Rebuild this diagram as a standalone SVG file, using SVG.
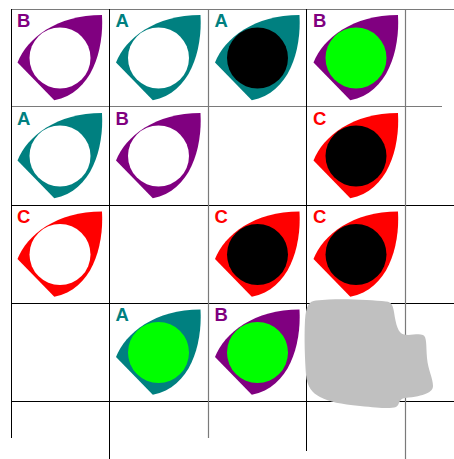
<svg xmlns="http://www.w3.org/2000/svg" xmlns:xlink="http://www.w3.org/1999/xlink" width="454" height="459" viewBox="0 0 454 459">
<style>
.g{stroke:#000;stroke-width:1;fill:none}
.gg{stroke:#7a7a7a;stroke-width:1.2;fill:none}
.lbl{font-family:"Liberation Sans",Arial,sans-serif;font-weight:bold;font-size:18.5px}
.p{fill:#800080}
.t{fill:#008080}
.r{fill:#ff0000}
.w{fill:#fff}
.k{fill:#000}
.gr{fill:#00ff00}
</style>
<defs>
<path id="leaf" d="M17.5,62.5 C27,38 57,15 102,15 C104,50 92,93 54.3,100.3 Z"/>
</defs>
<rect width="454" height="459" fill="#fff"/>
<g id="grid">
<line class="gg" x1="11" y1="9.5" x2="454" y2="9.5"/>
<line class="gg" x1="11" y1="106.5" x2="442" y2="106.5"/>
<line class="g" x1="11" y1="205.5" x2="454" y2="205.5"/>
<line class="g" x1="11" y1="303.5" x2="454" y2="303.5"/>
<line class="g" x1="11" y1="401.5" x2="454" y2="401.5"/>
<line class="g" x1="11.5" y1="9" x2="11.5" y2="438"/>
<line class="g" x1="109.5" y1="9" x2="109.5" y2="459"/>
<line class="gg" x1="208.5" y1="9" x2="208.5" y2="438"/>
<line class="g" x1="306.5" y1="9" x2="306.5" y2="451"/>
<line class="gg" x1="405.5" y1="9" x2="405.5" y2="459"/>
</g>
<g id="n00"><use href="#leaf" class="p"/><circle cx="60" cy="58" r="30.5" class="w"/><text x="17" y="26.7" class="lbl p">B</text></g>
<g id="n01" transform="translate(98.5,0)"><use href="#leaf" class="t"/><circle cx="60" cy="58" r="30.5" class="w"/><text x="17" y="26.7" class="lbl t">A</text></g>
<g id="n02" transform="translate(197.5,0)"><use href="#leaf" class="t"/><circle cx="60" cy="58" r="30.5" class="k"/><text x="17" y="26.7" class="lbl t">A</text></g>
<g id="n03" transform="translate(296,0)"><use href="#leaf" class="p"/><circle cx="60" cy="58" r="30.5" class="gr"/><text x="17" y="26.7" class="lbl p">B</text></g>
<g id="n10" transform="translate(0,98)"><use href="#leaf" class="t"/><circle cx="60" cy="58" r="30.5" class="w"/><text x="17" y="26.7" class="lbl t">A</text></g>
<g id="n11" transform="translate(98.5,98)"><use href="#leaf" class="p"/><circle cx="60" cy="58" r="30.5" class="w"/><text x="17" y="26.7" class="lbl p">B</text></g>
<g id="n13" transform="translate(296,98)"><use href="#leaf" class="r"/><circle cx="60" cy="58" r="30.5" class="k"/><text x="17" y="26.7" class="lbl r">C</text></g>
<g id="n20" transform="translate(0,196.5)"><use href="#leaf" class="r"/><circle cx="60" cy="58" r="30.5" class="w"/><text x="17" y="26.7" class="lbl r">C</text></g>
<g id="n22" transform="translate(197.5,196.5)"><use href="#leaf" class="r"/><circle cx="60" cy="58" r="30.5" class="k"/><text x="17" y="26.7" class="lbl r">C</text></g>
<g id="n23" transform="translate(296,196.5)"><use href="#leaf" class="r"/><circle cx="60" cy="58" r="30.5" class="k"/><text x="17" y="26.7" class="lbl r">C</text></g>
<g id="n31" transform="translate(98.5,294.5)"><use href="#leaf" class="t"/><circle cx="60" cy="58" r="30.5" class="gr"/><text x="17" y="26.7" class="lbl t">A</text></g>
<g id="n32" transform="translate(197.5,294.5)"><use href="#leaf" class="p"/><circle cx="60" cy="58" r="30.5" class="gr"/><text x="17" y="26.7" class="lbl p">B</text></g>
<g id="blob"><path fill="#c0c0c0" d="M316,300.5 C340,298 370,300 386,301.5 C392,302 393,306 394,312 C396,325 398,333 404,334.5 C410,336 418,333 423,335 C427,337 426,345 427,358 C428,370 433,378 433,386 C433,392 425,396 405,398 C398,399 400,405 396,407 C390,409 380,408 360,406 C340,404 330,402 320,397 C312,393 307,386 306,375 C305,360 304,340 305,320 C306,306 309,301 316,300.5 Z"/></g>
</svg>
